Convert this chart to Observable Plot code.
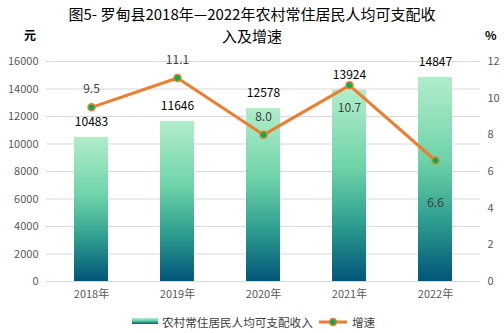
<!DOCTYPE html>
<html><head><meta charset="utf-8">
<script src="https://cdn.jsdelivr.net/npm/d3@7"></script>
<script src="https://cdn.jsdelivr.net/npm/@observablehq/plot@0.6"></script>
<style>
body{margin:0;background:#fff;font-family:"Noto Sans CJK SC","Noto Sans",sans-serif;}
#wrap{position:relative;width:504px;height:333px;overflow:hidden;}
#wrap svg{position:absolute;left:0;top:0;}
.abs{position:absolute;white-space:nowrap;}
.title{left:0;width:504px;text-align:center;font-size:15px;line-height:20px;color:#000;}
</style></head>
<body>
<div id="wrap">
  <div id="chart"></div>
  <div class="abs title" style="top:4px;">图5- 罗甸县2018年—2022年农村常住居民人均可支配收</div>
  <div class="abs title" style="top:26px;">入及增速</div>
  <div class="abs" style="left:24px;top:27px;font-size:12px;font-weight:bold;line-height:16px;">元</div>
  <div class="abs" style="left:485px;top:27px;font-size:12px;font-weight:bold;line-height:16px;">%</div>
  <div class="abs" style="left:132px;top:318px;width:26px;height:6px;background:linear-gradient(#b2edca,#6fd4a9 40%,#2e9f8f 70%,#02557a);"></div>
  <div class="abs" style="left:162px;top:314px;font-size:11.6px;line-height:16px;color:#404040;">农村常住居民人均可支配收入</div>
  <svg class="abs" style="left:318px;top:314px;" width="30" height="16"><line x1="1" y1="8" x2="29" y2="8" stroke="#ed7d31" stroke-width="3"/><circle cx="15" cy="8" r="3.5" fill="#00b050" stroke="#ed7d31" stroke-width="1.5"/></svg>
  <div class="abs" style="left:352px;top:314px;font-size:11.6px;line-height:16px;color:#404040;">增速</div>
</div>
<script>
const years = ["2018年","2019年","2020年","2021年","2022年"];
const income = [10483, 11646, 12578, 13924, 14847];
const growth = [9.5, 11.1, 8.0, 10.7, 6.6];
const leftTicks = [0,2000,4000,6000,8000,10000,12000,14000,16000];
const rightTicks = [0,2,4,6,8,10,12];

const k = 16000/12;
const data = years.map((y,i)=>({year:y, income:income[i], growth:growth[i]}));
const ff = "'Noto Sans CJK SC','Noto Sans',sans-serif";

const chart = Plot.plot({
  width:504, height:333,
  marginTop:61, marginBottom:52, marginLeft:46, marginRight:24,
  style:{fontFamily:ff, fontSize:"11px", background:"transparent", overflow:"visible"},
  x:{domain:years, paddingInner:0.6, paddingOuter:0.3, label:null},
  y:{domain:[0,16000], label:null},
  marks:[
    Plot.gridY(leftTicks, {stroke:"#d9d9d9", strokeOpacity:1, strokeWidth:1}),
    Plot.axisY(leftTicks, {anchor:"left", tickSize:0, tickPadding:8, label:null, fill:"#595959", fontSize:11, tickFormat:d=>String(d)}),
    Plot.axisY(rightTicks.map(v=>v*k), {anchor:"right", tickSize:0, tickPadding:7, label:null, fill:"#595959", fontSize:11, tickFormat:d=>String(Math.round(d/k))}),
    Plot.axisX({tickSize:0, tickPadding:9, label:null, fill:"#595959", fontSize:11}),
    Plot.barY(data, {x:"year", y:"income", fill:"url(#barGrad)"}),
    Plot.text(data, {x:"year", y:"income", text:d=>String(d.income), dy:-15, fill:"#000", fontSize:12, lineAnchor:"middle"}),
    Plot.line(data, {x:"year", y:d=>d.growth*k, stroke:"#ed7d31", strokeWidth:3}),
    Plot.dot(data, {x:"year", y:d=>d.growth*k, r:3.5, fill:"#00b050", stroke:"#ed7d31", strokeWidth:1.5}),
    Plot.text(data.filter(d=>["2018年","2019年","2020年"].includes(d.year)), {x:"year", y:d=>d.growth*k, text:d=>d.growth.toFixed(1), dy:-18, fill:"#404040", fontSize:12, lineAnchor:"middle"}),
    Plot.text(data.filter(d=>d.year==="2021年"), {x:"year", y:d=>d.growth*k, text:d=>d.growth.toFixed(1), dy:23, fill:"#404040", fontSize:12, lineAnchor:"middle"}),
    Plot.text(data.filter(d=>d.year==="2022年"), {x:"year", y:d=>d.growth*k, text:d=>d.growth.toFixed(1), dy:43, fill:"#404040", fontSize:12, lineAnchor:"middle"})
  ]
});
const defs = d3.select(chart).insert("defs", ":first-child");
const g = defs.append("linearGradient").attr("id","barGrad").attr("x1",0).attr("y1",0).attr("x2",0).attr("y2",1);
[[0,"#b2edca"],[0.4,"#6fd4a9"],[0.7,"#2e9f8f"],[1,"#02557a"]].forEach(([o,c])=>g.append("stop").attr("offset",o).attr("stop-color",c));
document.getElementById("chart").appendChild(chart);
</script>
</body></html>
